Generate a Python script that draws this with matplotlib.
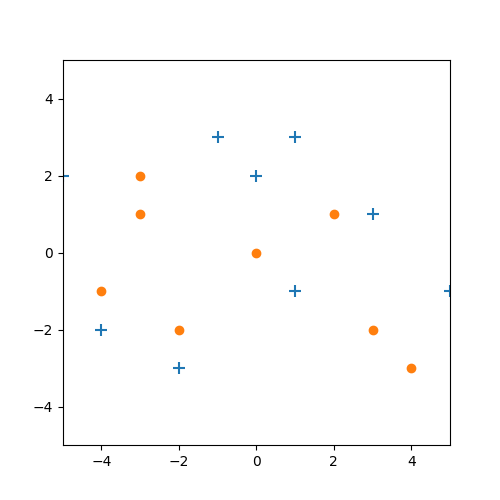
import matplotlib
matplotlib.use("Agg")
import matplotlib.pyplot as plt

# blue plus markers
plus_x = [-5, -1, 1, 0, 3, 5, 1, -4, -2]
plus_y = [2, 3, 3, 2, 1, -1, -1, -2, -3]

# orange circle markers
dot_x = [-3, -3, 2, 0, -4, -2, 3, 4]
dot_y = [2, 1, 1, 0, -1, -2, -2, -3]

fig, ax = plt.subplots(figsize=(5, 5), dpi=100)
ax.scatter(plus_x, plus_y, marker='+', s=80, color='#1f77b4', linewidths=1.5)
ax.scatter(dot_x, dot_y, marker='o', s=36, color='#ff7f0e')
ax.set_xlim(-5, 5)
ax.set_ylim(-5, 5)
fig.savefig('out.png')
